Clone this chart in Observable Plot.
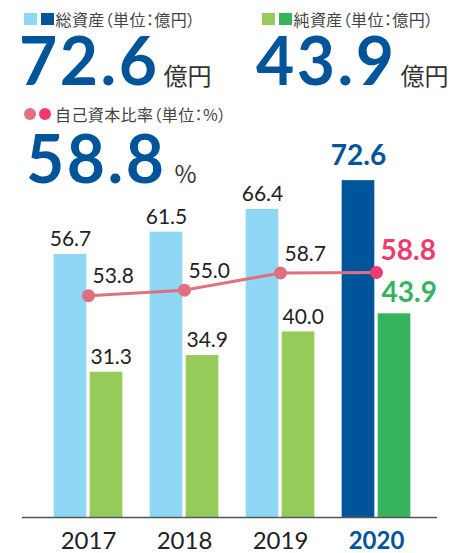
<!DOCTYPE html>
<html>
<head>
<meta charset="utf-8">
<script src="https://cdn.jsdelivr.net/npm/d3@7"></script>
<script src="https://cdn.jsdelivr.net/npm/@observablehq/plot@0.6"></script>
<style>
  html, body { margin: 0; padding: 0; background: #fff; }
  #wrap { position: relative; width: 463px; height: 553px; overflow: hidden; font-family: "Lato", "Noto Sans CJK JP", sans-serif; }
  .abs { position: absolute; white-space: nowrap; }
  .legend { font-family: "Noto Sans CJK JP", sans-serif; font-size: 16px; color: #444; line-height: 16px; display: flex; align-items: center; font-feature-settings: "palt"; letter-spacing: 0.4px; }
  .sq { display: inline-block; width: 12.5px; height: 12.5px; margin-right: 4.5px; }
  .ci { display: inline-block; width: 12px; height: 12px; border-radius: 50%; margin-right: 3px; }
  .big { display: flex; align-items: baseline; line-height: 1; }
  .big .num { font-family: "Lato", sans-serif; font-weight: 700; font-size: 66px; color: #00559a; letter-spacing: 2.5px; }
  .big .unit { font-family: "Noto Sans CJK JP", sans-serif; font-size: 24px; color: #333; margin-left: 4px; }
</style>
</head>
<body>
<div id="wrap">
  <div id="chart"></div>
  <div class="abs legend" style="left:24px; top:11px;"><span class="sq" style="background:#8fd8f5"></span><span class="sq" style="background:#00559a; margin-right:2px"></span>総資産（単位：億円）</div>
  <div class="abs legend" style="left:262px; top:11px;"><span class="sq" style="background:#96cb5a"></span><span class="sq" style="background:#35b45e; margin-right:2px"></span>純資産（単位：億円）</div>
  <div class="abs big" style="left:19px; top:27px;"><span class="num">72.6</span><span class="unit">億円</span></div>
  <div class="abs big" style="left:256px; top:27px;"><span class="num">43.9</span><span class="unit">億円</span></div>
  <div class="abs legend" style="left:24px; top:106px;"><span class="ci" style="background:#e07080"></span><span class="ci" style="background:#ee3a6e; margin-right:4px"></span>自己資本比率（単位：%）</div>
  <div class="abs big" style="left:26px; top:125px;"><span class="num">58.8</span><span class="unit" style="margin-left:8px">%</span></div>
</div>
<script>
const years = ["2017", "2018", "2019", "2020"];
const totalAssets = [56.7, 61.5, 66.4, 72.6];   // 総資産 (億円)
const netAssets = [31.3, 34.9, 40.0, 43.9];     // 純資産 (億円)
const equityRatio = [53.8, 55.0, 58.7, 58.8];   // 自己資本比率 (%)
const latest = "2020";
const ratioOffset = 6; // secondary-axis shift for the ratio line

const rows = years.map((year, i) => ({ year, total: totalAssets[i], net: netAssets[i], ratio: equityRatio[i] }));
const past = rows.filter(d => d.year !== latest);
const last = rows.filter(d => d.year === latest);
const F = "Lato, 'Noto Sans CJK JP', sans-serif";
const ry = d => d.ratio - ratioOffset;

const chart = Plot.plot({
  width: 463,
  height: 553,
  marginTop: 53,
  marginBottom: 36,
  marginLeft: 22,
  marginRight: 26,
  x: { domain: years, axis: null, paddingInner: 0, paddingOuter: 0.154, align: 0.583 },
  y: { domain: [0, 100], axis: null },
  style: { fontFamily: F, background: "white" },
  marks: [
    Plot.barY(rows, { x: "year", y: "total", fill: d => d.year === latest ? "#00559a" : "#8fd8f5", insetLeft: 13.67, insetRight: 49.67 }),
    Plot.barY(rows, { x: "year", y: "net", fill: d => d.year === latest ? "#35b45e" : "#96cb5a", insetLeft: 49.67, insetRight: 13.67 }),
    Plot.ruleY([0], { stroke: "#555", strokeWidth: 1.5 }),
    Plot.line(rows, { x: "year", y: ry, stroke: "#e07080", strokeWidth: 3 }),
    Plot.dot(rows, { x: "year", y: ry, r: 6.5, fill: d => d.year === latest ? "#ee3a6e" : "#e07080", stroke: "none" }),
    Plot.text(past, { x: "year", y: "total", text: d => d.total.toFixed(1), dx: -18, dy: -15, fontSize: 21, fill: "#222", fontFamily: F }),
    Plot.text(past, { x: "year", y: "net", text: d => d.net.toFixed(1), textAnchor: "start", dx: 2, dy: -15, fontSize: 21, fill: "#222", fontFamily: F }),
    Plot.text(past, { x: "year", y: ry, text: d => d.ratio.toFixed(1), textAnchor: "start", dx: 4, dy: -19, fontSize: 21, fill: "#222", fontFamily: F }),
    Plot.text(last, { x: "year", y: "total", text: d => d.total.toFixed(1), dx: -18, dy: -25, fontSize: 28, fontWeight: 700, fill: "#00559a", fontFamily: F }),
    Plot.text(last, { x: "year", y: "net", text: d => d.net.toFixed(1), textAnchor: "start", dx: 5, dy: -21, fontSize: 28, fontWeight: 700, fill: "#35b45e", fontFamily: F }),
    Plot.text(last, { x: "year", y: ry, text: d => d.ratio.toFixed(1), textAnchor: "start", dx: 4, dy: -21, fontSize: 28, fontWeight: 700, fill: "#ee3a6e", fontFamily: F }),
    Plot.text(past, { x: "year", frameAnchor: "bottom", lineAnchor: "middle", text: "year", dy: 24, fontSize: 24, fill: "#222", fontFamily: F }),
    Plot.text(last, { x: "year", frameAnchor: "bottom", lineAnchor: "middle", text: "year", dy: 24, fontSize: 24, fontWeight: 700, fill: "#00559a", fontFamily: F })
  ]
});
document.getElementById("chart").appendChild(chart);
</script>
</body>
</html>
